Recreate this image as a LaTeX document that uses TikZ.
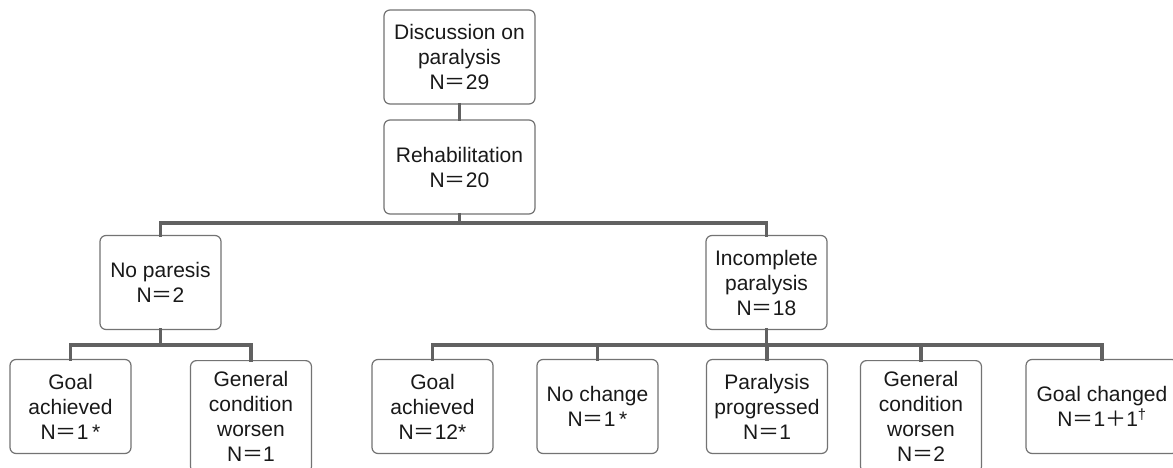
\documentclass[tikz,border=0pt]{standalone}
\usepackage{fontspec}
\setmainfont{Liberation Sans}
\newfontfamily\cjk{Noto Sans CJK JP}
\newcommand{\feq}{{\cjk ＝}}
\newcommand{\fpl}{{\cjk ＋}}
\begin{document}
\begin{tikzpicture}[x=1pt,y=-1pt,
  box/.style={draw=black!55, line width=1.2pt, rounded corners=6pt, fill=white,
    minimum width=121pt, minimum height=94pt, inner sep=0pt, align=center,
    font=\fontsize{21}{25}\selectfont, text=black!90},
  conn/.style={draw=black!62, line width=3.6pt, line join=miter, line cap=rect}]
\clip (0,0) rectangle (1173,468);
\fill[white] (0,0) rectangle (1173,468);
% bus coordinates
\coordinate (bus1) at (0,223);
\coordinate (bus2) at (0,345);
% nodes
\node[box, minimum width=151pt] (disc) at (459.5,57) {Discussion on\\paralysis\\N\feq 29};
\node[box, minimum width=151pt] (rehab) at (459.5,167) {Rehabilitation\\N\feq 20};
\node[box] (nop) at (160.5,282.5) {No paresis\\N\feq 2};
\node[box] (inc) at (766.5,282.5) {Incomplete\\paralysis\\N\feq 18};
\node[box] (ga1) at (70.5,406.5) {Goal\\achieved\\N\feq 1\,*};
\node[box, minimum height=112pt, anchor=north] (gc1) at (251,360) {General\\condition\\worsen\\N\feq 1};
\node[box] (ga2) at (432.5,406.5) {Goal\\achieved\\N\feq 12*};
\node[box] (nc) at (597.5,406.5) {No change\\N\feq 1\,*};
\node[box] (pp) at (767,406.5) {Paralysis\\progressed\\N\feq 1};
\node[box, minimum height=112pt, anchor=north] (gc2) at (921,360) {General\\condition\\worsen\\N\feq 2};
\node[box, minimum width=152pt] (gch) at (1102,406.5) {Goal changed\\N\feq 1\fpl 1\textsuperscript{\textdagger}};
% connectors
\draw[conn] (disc.south) -- (rehab.north);
\draw[conn] (rehab.south) -- (rehab.south |- bus1);
\draw[conn] (nop.north) -- (nop.north |- bus1) -- (inc.north |- bus1) -- (inc.north);
\draw[conn] (nop.south) -- (nop.south |- bus2);
\draw[conn] (ga1.north) -- (ga1.north |- bus2) -- (gc1.north |- bus2) -- (gc1.north);
\draw[conn] (inc.south) -- (inc.south |- bus2);
\draw[conn] (ga2.north) -- (ga2.north |- bus2) -- (gch.north |- bus2) -- (gch.north);
\draw[conn] (nc.north) -- (nc.north |- bus2);
\draw[conn] (pp.north) -- (pp.north |- bus2);
\draw[conn] (gc2.north) -- (gc2.north |- bus2);
\end{tikzpicture}
\end{document}
